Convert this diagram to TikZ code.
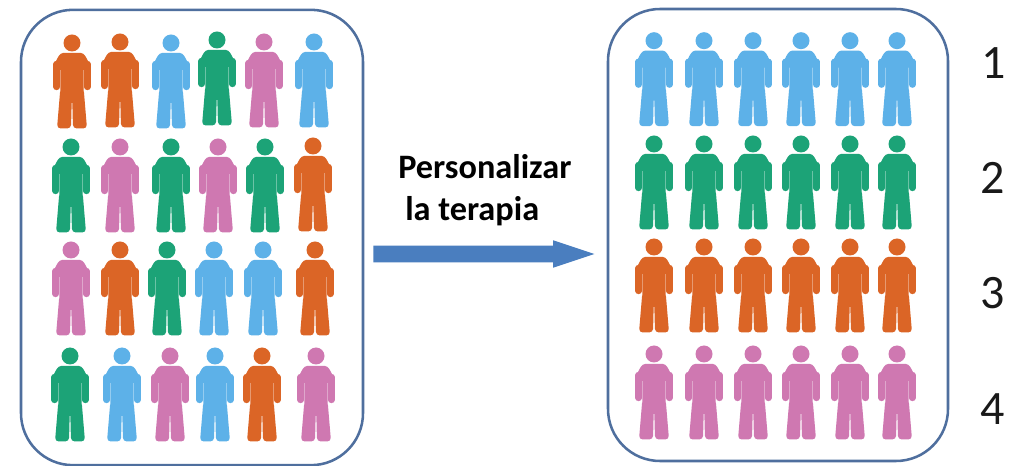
\documentclass[tikz,border=0pt]{standalone}
\usepackage{fontspec}
\setmainfont{Carlito}
\usetikzlibrary{shapes.arrows}
\definecolor{porange}{HTML}{DB6526}
\definecolor{pblue}{HTML}{5DB1E8}
\definecolor{pgreen}{HTML}{1CA377}
\definecolor{ppink}{HTML}{CF78B1}
\definecolor{frame}{HTML}{4F6F9E}
\definecolor{arrowblue}{HTML}{4A7EBF}
\tikzset{
  panel/.style={draw=frame,line width=1.9pt,rounded corners=39pt,fill=white,inner sep=0pt},
  fatarrow/.style={single arrow,fill=arrowblue,draw=none,inner xsep=0pt,inner ysep=6pt,
     single arrow head extend=4.1pt,single arrow tip angle=37,minimum height=165.75pt},
  boldlabel/.style={font=\fontsize{25.7pt}{27pt}\selectfont\bfseries,anchor=base west,inner sep=0pt,text=black},
  numlabel/.style={font=\fontsize{36pt}{38pt}\selectfont,anchor=base,inner sep=0pt,text=black!90},
  person/.pic={
    \fill[#1] (0,0) circle (8.5);
    \fill[#1] (-11.7,60) -- (-11.7,27) -- (-13,24) -- (-18.6,22) to[out=-90,in=180] (-9,10) -- (9,10)
      to[out=0,in=-90] (18.6,22) -- (13,24) -- (11.7,27) -- (11.7,60) -- cycle;
    \fill[#1,rounded corners=2.8pt] (-11.7,46) -- (-15,85.5) -- (-1,85.5) -- (0,47) -- (1,85.5)
      -- (15,85.5) -- (11.7,46) -- cycle;
    \draw[#1,line width=4.7pt,line cap=round] (-15.4,21) -- (-15.4,44);
    \draw[#1,line width=4.7pt,line cap=round] (15.4,21) -- (15.4,44);
  }
}
\begin{document}
\begin{tikzpicture}[x=0.75pt,y=-0.75pt]
\useasboundingbox (0,0) rectangle (1018,466);
\node[panel,minimum width=256.5pt,minimum height=341.5pt] (left) at (192,237.5) {};
\node[panel,minimum width=255pt,minimum height=339pt] (right) at (778,235) {};
% left panel people
\foreach \x/\y/\c [count=\i] in {
 72/43/porange,120/42/porange,171/43/pblue,217/40/pgreen,264/42/ppink,314/42/pblue,
 71/147/pgreen,120/147/ppink,171/147/pgreen,218/147/ppink,265/147/pgreen,313/146/porange,
 71/250/ppink,120/250/porange,167/250/pgreen,214/250/pblue,263/250/pblue,315/250/porange,
 70/356/pgreen,122/356/pblue,170/356/ppink,215/356/pblue,262/356/porange,316/356/ppink}
  \pic (l\i) at (\x,\y) {person=\c};
% right panel people
\foreach \y/\c [count=\r] in {40.7/pblue,144/pgreen,247/porange,354/ppink}
  \foreach \x [count=\i] in {654,704,753,801,850,897}
    \pic (r\r\i) at (\x,\y) {person=\c};
\node[fatarrow,anchor=west] (arrow) at (373,254) {};
\node[boldlabel] (t1) at (398,179) {Personalizar};
\node[boldlabel] (t2) at (405,221) {la terapia};
\node[numlabel] (n1) at (994,79) {1};
\node[numlabel] (n2) at (993,194) {2};
\node[numlabel] (n3) at (993,309) {3};
\node[numlabel] (n4) at (993,425) {4};
\end{tikzpicture}
\end{document}
